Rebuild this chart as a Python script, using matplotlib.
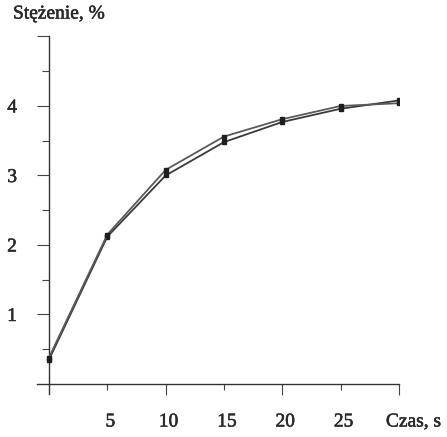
import matplotlib
matplotlib.use("Agg")
import matplotlib.pyplot as plt
import matplotlib.patheffects as pe
from matplotlib.ticker import FixedLocator

# data (two runs, nearly on top of each other)
czas = [0, 5, 10, 15, 20, 25, 30]
stez_a = [0.35, 2.12, 3.00, 3.48, 3.77, 3.96, 4.08]
stez_b = [0.38, 2.15, 3.08, 3.56, 3.81, 4.00, 4.04]
xticks = [5, 10, 15, 20, 25]
yticks = [1, 2, 3, 4]

plt.rcParams['font.family'] = ['Liberation Serif', 'DejaVu Serif']
txt = '#2a2a2a'
ink = [pe.withStroke(linewidth=0.4, foreground=txt)]  # scanned print looks a bit heavy

fig = plt.figure(figsize=(4.47, 4.37), dpi=100)
ax = fig.add_axes([0.0835, 0.0991, 0.809, 0.8174])
ax.set_xlim(-1.0, 30)
ax.set_ylim(-0.14, 5.0)

for s in ['top', 'right']:
    ax.spines[s].set_visible(False)
for s in ['left', 'bottom']:
    ax.spines[s].set_position(('data', 0))
    ax.spines[s].set_color('#333333')
    ax.spines[s].set_linewidth(1.0)

ax.plot(czas, stez_a, color='#3a3a3a', lw=1.3, marker='s', ms=3.5, mfc='#1e1e1e', mec='#1e1e1e', zorder=3)
ax.plot(czas, stez_b, color='#5a5a5a', lw=1.3, marker='s', ms=3.5, mfc='#1e1e1e', mec='#1e1e1e', zorder=3)

# y ticks: majors 1..5, minors at halves
ax.yaxis.set_major_locator(FixedLocator([1, 2, 3, 4, 5]))
ax.yaxis.set_minor_locator(FixedLocator([0.5, 1.5, 2.5, 3.5, 4.5]))
ax.set_yticklabels([str(v) for v in yticks] + [''])
ax.tick_params(axis='y', which='major', direction='out', length=9, width=0.8, color='#444444',
               pad=14, labelsize=14, labelcolor=txt)
ax.tick_params(axis='y', which='minor', direction='out', length=5, width=0.8, color='#444444')
for lab in ax.get_yticklabels():
    lab.set_path_effects(ink)

# x ticks: longer at 10,20,30
ax.xaxis.set_major_locator(FixedLocator([10, 20, 30]))
ax.xaxis.set_minor_locator(FixedLocator([5, 15, 25]))
ax.tick_params(axis='x', which='both', direction='out', color='#444444', width=0.8)
ax.tick_params(axis='x', which='major', length=8)
ax.tick_params(axis='x', which='minor', length=4)
ax.set_xticklabels([])
for x in xticks:
    ax.annotate(str(x), xy=(x, 0), xytext=(3, -38), textcoords='offset pixels',
                ha='center', va='center', fontsize=14, color=txt, path_effects=ink)
ax.annotate("Czas, s", xy=(30, 0), xytext=(-13, -38), textcoords='offset pixels',
            ha='left', va='center', fontsize=14, color=txt, path_effects=ink)

fig.text(13 / 447, 1 - 14 / 437, "Stężenie, %", ha='left', va='center',
         fontsize=14, color=txt, path_effects=ink)

fig.savefig("out.png", dpi=100)
